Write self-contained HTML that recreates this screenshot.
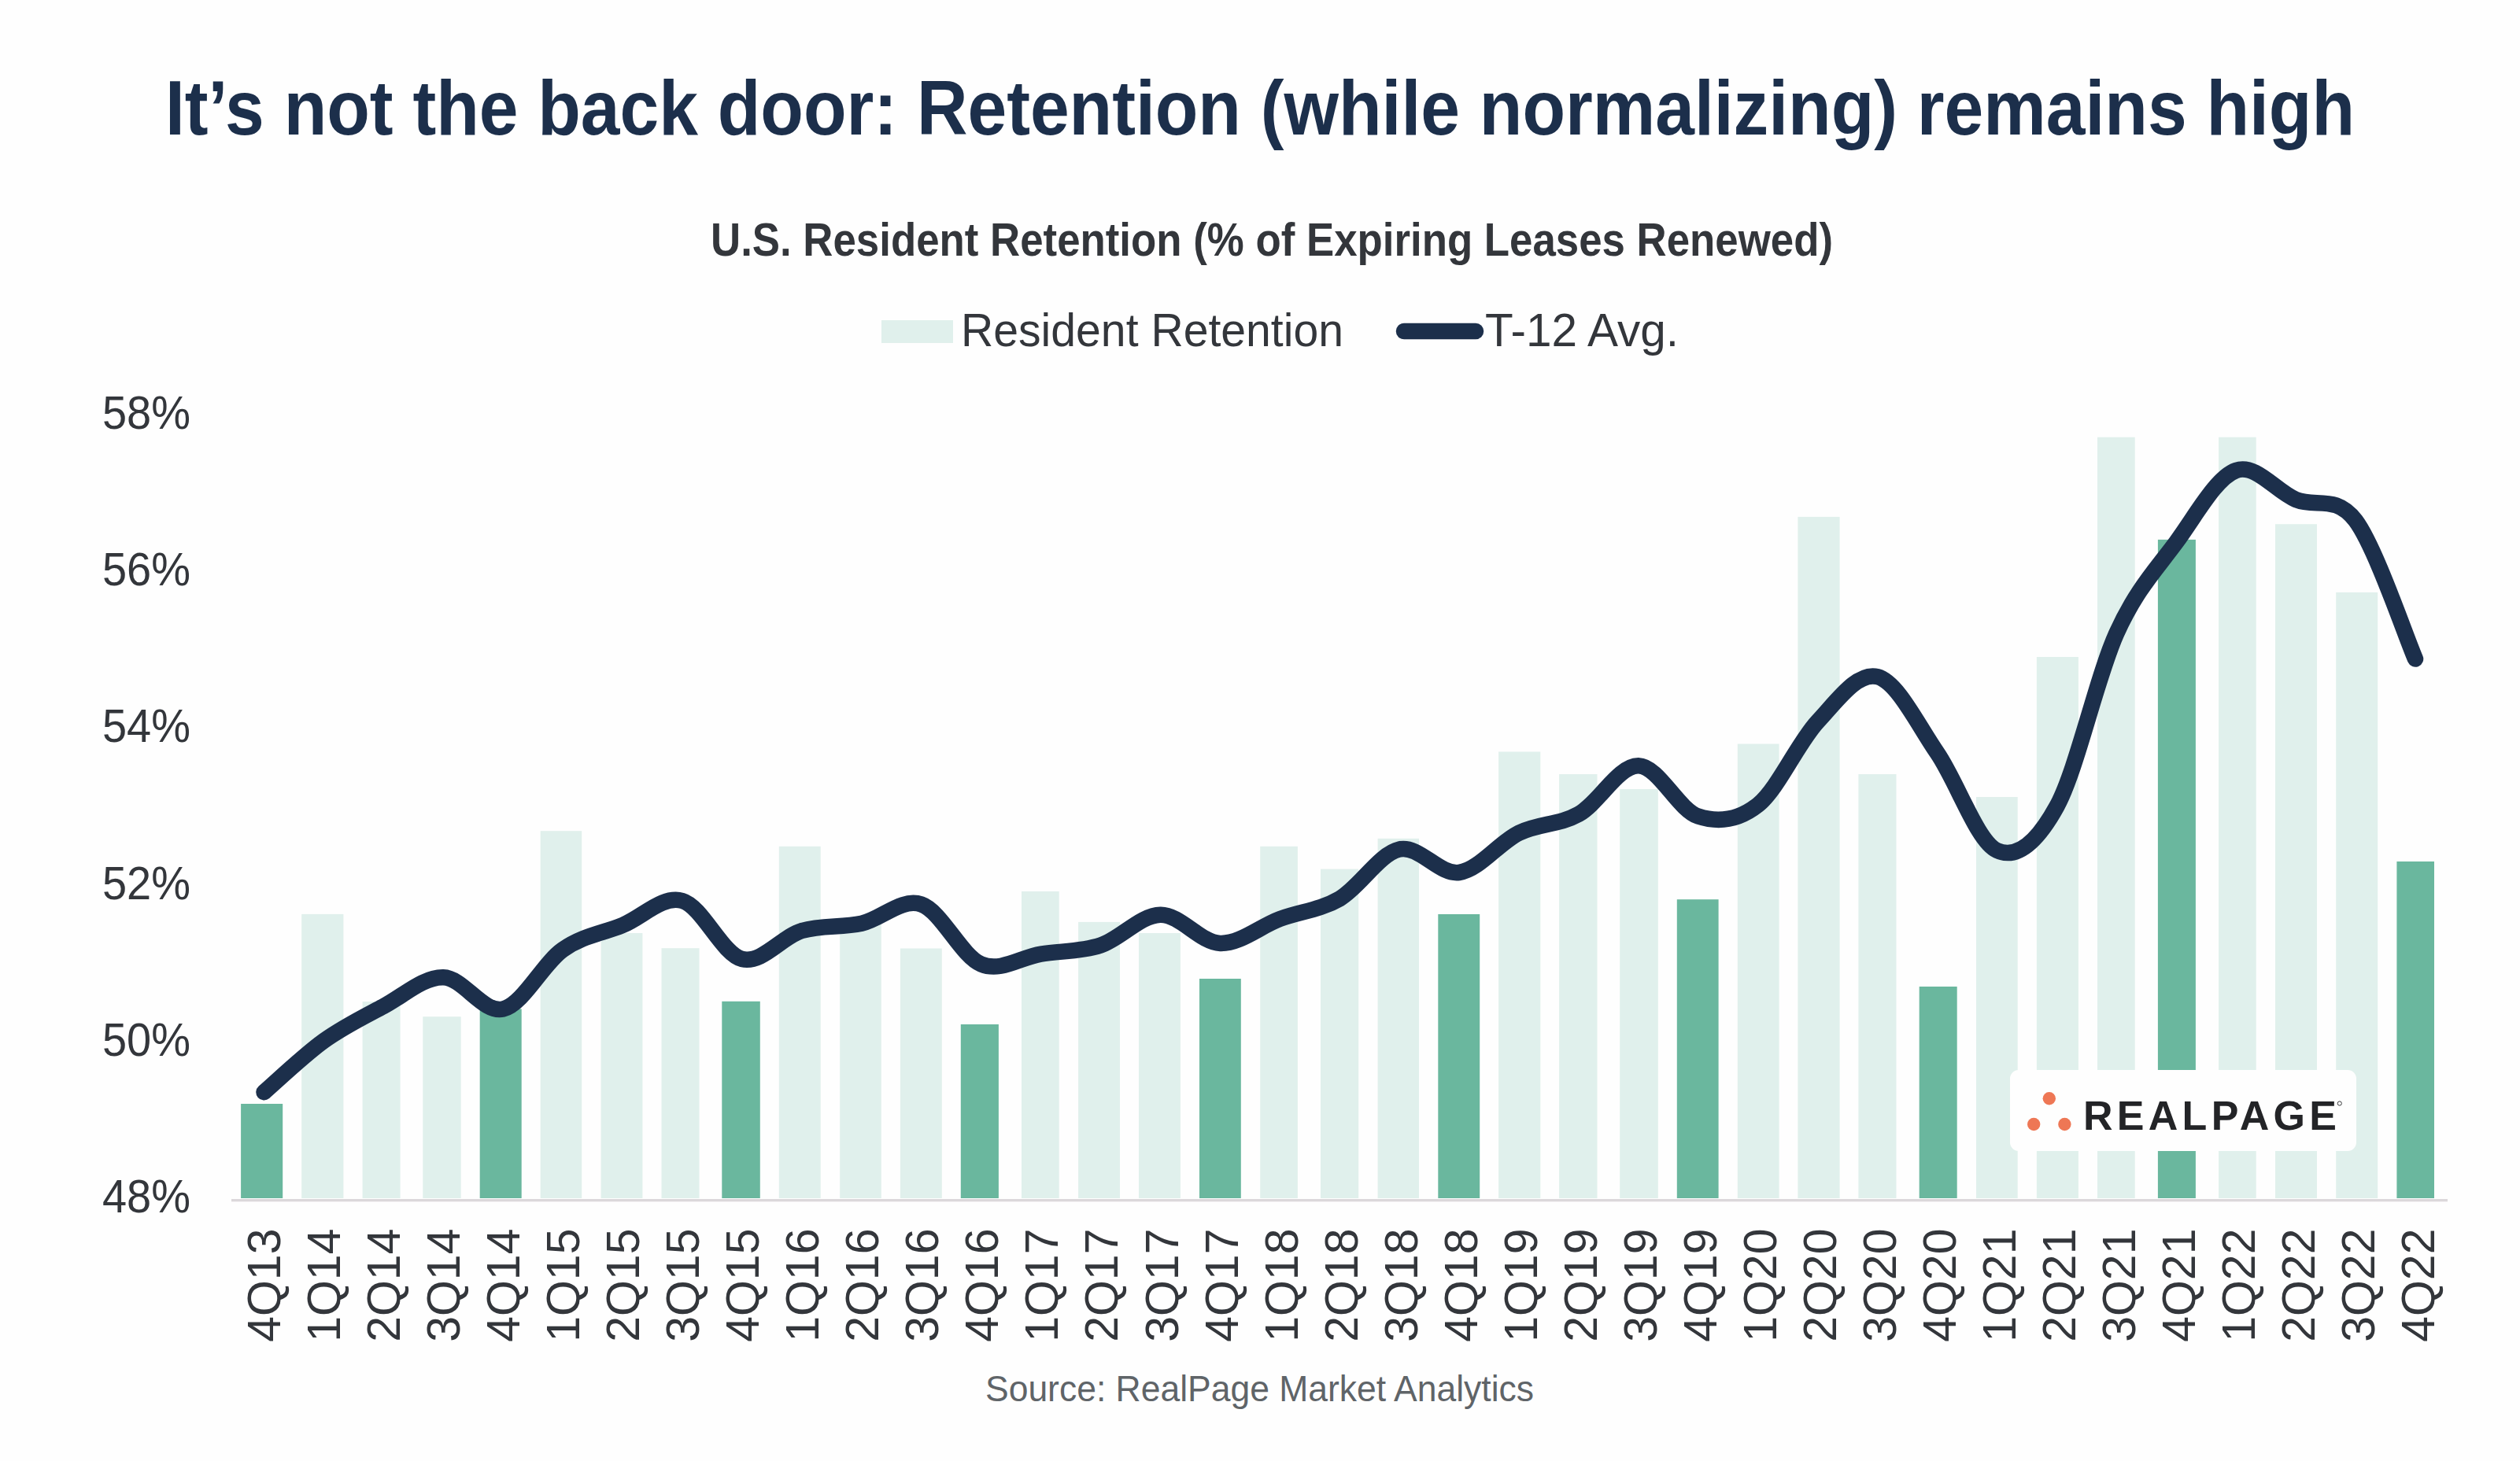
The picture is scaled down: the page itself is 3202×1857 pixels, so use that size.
<!DOCTYPE html><html><head><meta charset="utf-8"><title>U.S. Resident Retention</title><style>html,body{margin:0;padding:0;background:#fff;}svg{display:block;}text{font-family:"Liberation Sans", sans-serif;}</style></head><body>
<svg width="3202" height="1857" viewBox="0 0 3202 1857">
<rect x="0" y="0" width="3202" height="1857" fill="#fefefe"/>
<text x="210" y="171" font-size="98" font-weight="bold" fill="#1c2f4b" textLength="2782" lengthAdjust="spacingAndGlyphs">It’s not the back door: Retention (while normalizing) remains high</text>
<text x="903" y="325" font-size="60" font-weight="bold" fill="#33363b" textLength="1426" lengthAdjust="spacingAndGlyphs">U.S. Resident Retention (% of Expiring Leases Renewed)</text>
<rect x="1120" y="407" width="91" height="29" fill="#e0f0ec"/>
<text x="1221" y="440" font-size="60" fill="#33363b" textLength="486" lengthAdjust="spacingAndGlyphs">Resident Retention</text>
<line x1="1784" y1="421" x2="1875" y2="421" stroke="#1c2f4b" stroke-width="20.5" stroke-linecap="round"/>
<text x="1887" y="440" font-size="60" fill="#33363b" textLength="246" lengthAdjust="spacingAndGlyphs">T-12 Avg.</text>
<text x="242" y="545.0" font-size="60" fill="#33363b" text-anchor="end" textLength="112" lengthAdjust="spacingAndGlyphs">58%</text>
<text x="242" y="744.2" font-size="60" fill="#33363b" text-anchor="end" textLength="112" lengthAdjust="spacingAndGlyphs">56%</text>
<text x="242" y="943.4" font-size="60" fill="#33363b" text-anchor="end" textLength="112" lengthAdjust="spacingAndGlyphs">54%</text>
<text x="242" y="1142.6" font-size="60" fill="#33363b" text-anchor="end" textLength="112" lengthAdjust="spacingAndGlyphs">52%</text>
<text x="242" y="1341.8" font-size="60" fill="#33363b" text-anchor="end" textLength="112" lengthAdjust="spacingAndGlyphs">50%</text>
<text x="242" y="1541.0" font-size="60" fill="#33363b" text-anchor="end" textLength="112" lengthAdjust="spacingAndGlyphs">48%</text>
<rect x="306.1" y="1403.0" width="53.1" height="120.0" fill="#6ab79e"/>
<rect x="383.2" y="1161.9" width="53.2" height="361.1" fill="#e0f0ec"/>
<rect x="460.6" y="1273.1" width="48.0" height="249.9" fill="#e0f0ec"/>
<rect x="537.3" y="1292.2" width="48.4" height="230.8" fill="#e0f0ec"/>
<rect x="609.7" y="1282.4" width="53.0" height="240.6" fill="#6ab79e"/>
<rect x="686.7" y="1056.2" width="52.5" height="466.8" fill="#e0f0ec"/>
<rect x="763.6" y="1186.0" width="52.8" height="337.0" fill="#e0f0ec"/>
<rect x="840.5" y="1205.2" width="48.0" height="317.8" fill="#e0f0ec"/>
<rect x="917.3" y="1272.8" width="48.5" height="250.2" fill="#6ab79e"/>
<rect x="989.8" y="1075.8" width="52.9" height="447.2" fill="#e0f0ec"/>
<rect x="1067.2" y="1172.0" width="52.6" height="351.0" fill="#e0f0ec"/>
<rect x="1143.9" y="1205.5" width="52.9" height="317.5" fill="#e0f0ec"/>
<rect x="1220.8" y="1302.0" width="48.1" height="221.0" fill="#6ab79e"/>
<rect x="1298.0" y="1133.0" width="47.7" height="390.0" fill="#e0f0ec"/>
<rect x="1370.1" y="1171.9" width="52.9" height="351.1" fill="#e0f0ec"/>
<rect x="1447.0" y="1186.0" width="52.9" height="337.0" fill="#e0f0ec"/>
<rect x="1524.0" y="1244.0" width="52.8" height="279.0" fill="#6ab79e"/>
<rect x="1601.2" y="1075.8" width="47.7" height="447.2" fill="#e0f0ec"/>
<rect x="1678.0" y="1104.6" width="48.2" height="418.4" fill="#e0f0ec"/>
<rect x="1750.6" y="1065.8" width="52.4" height="457.2" fill="#e0f0ec"/>
<rect x="1827.3" y="1162.0" width="52.9" height="361.0" fill="#6ab79e"/>
<rect x="1904.1" y="955.5" width="53.2" height="567.5" fill="#e0f0ec"/>
<rect x="1981.1" y="984.0" width="48.4" height="539.0" fill="#e0f0ec"/>
<rect x="2058.2" y="1003.0" width="48.6" height="520.0" fill="#e0f0ec"/>
<rect x="2130.8" y="1143.2" width="52.8" height="379.8" fill="#6ab79e"/>
<rect x="2207.8" y="945.5" width="52.8" height="577.5" fill="#e0f0ec"/>
<rect x="2284.4" y="656.9" width="53.2" height="866.1" fill="#e0f0ec"/>
<rect x="2361.4" y="984.0" width="48.1" height="539.0" fill="#e0f0ec"/>
<rect x="2438.7" y="1254.0" width="48.0" height="269.0" fill="#6ab79e"/>
<rect x="2511.0" y="1013.0" width="52.7" height="510.0" fill="#e0f0ec"/>
<rect x="2587.9" y="835.0" width="53.0" height="688.0" fill="#e0f0ec"/>
<rect x="2665.0" y="555.7" width="47.7" height="967.3" fill="#e0f0ec"/>
<rect x="2741.9" y="685.9" width="48.0" height="837.1" fill="#6ab79e"/>
<rect x="2819.1" y="555.7" width="47.6" height="967.3" fill="#e0f0ec"/>
<rect x="2891.0" y="666.2" width="53.0" height="856.8" fill="#e0f0ec"/>
<rect x="2968.2" y="752.9" width="53.0" height="770.1" fill="#e0f0ec"/>
<rect x="3045.4" y="1095.0" width="47.6" height="428.0" fill="#6ab79e"/>
<rect x="294" y="1524" width="2816" height="3.3" fill="#dcd8db"/>
<rect x="2554" y="1360" width="440" height="103" rx="11" fill="#fefefe"/>
<circle cx="2603.8" cy="1396.2" r="8.2" fill="#ee7755"/>
<circle cx="2584.2" cy="1429.0" r="8.2" fill="#ee7755"/>
<circle cx="2623.4" cy="1429.0" r="8.2" fill="#ee7755"/>
<text x="2647" y="1436.2" font-size="52" font-weight="bold" fill="#232427" textLength="322" lengthAdjust="spacing">REALPAGE</text>
<circle cx="2972.8" cy="1402.5" r="2.6" fill="none" stroke="#232427" stroke-width="0.9"/>
<path d="M335.5 1388.2 C348.2 1377.3 386.1 1341.2 411.4 1323.0 C436.7 1304.8 462.1 1292.5 487.4 1279.0 C512.7 1265.5 538.0 1241.6 563.3 1242.2 C588.6 1242.8 613.9 1288.4 639.2 1282.5 C664.5 1276.6 689.8 1224.8 715.2 1207.0 C740.5 1189.2 765.8 1186.3 791.1 1176.0 C816.4 1165.7 841.7 1137.8 867.0 1145.0 C892.3 1152.2 917.6 1212.7 942.9 1219.0 C968.3 1225.3 993.6 1190.5 1018.9 1183.0 C1044.2 1175.5 1069.5 1179.3 1094.8 1173.7 C1120.1 1168.1 1145.4 1140.9 1170.7 1149.5 C1196.0 1158.1 1221.4 1215.0 1246.7 1225.5 C1272.0 1236.0 1297.3 1216.6 1322.6 1212.6 C1347.9 1208.6 1373.2 1209.8 1398.5 1201.5 C1423.8 1193.2 1449.1 1163.1 1474.5 1162.7 C1499.8 1162.3 1525.1 1198.0 1550.4 1198.9 C1575.7 1199.8 1601.0 1177.4 1626.3 1168.0 C1651.6 1158.6 1676.9 1157.0 1702.2 1142.3 C1727.6 1127.5 1752.9 1085.0 1778.2 1079.5 C1803.5 1074.0 1828.8 1112.5 1854.1 1109.0 C1879.4 1105.5 1904.7 1071.1 1930.0 1058.7 C1955.3 1046.3 1980.7 1049.0 2006.0 1034.8 C2031.3 1020.6 2056.6 972.8 2081.9 973.3 C2107.2 973.8 2132.5 1029.3 2157.8 1037.6 C2183.1 1045.9 2208.4 1043.1 2233.8 1023.0 C2259.1 1002.9 2284.4 944.1 2309.7 917.0 C2335.0 889.9 2360.3 853.5 2385.6 860.2 C2410.9 866.9 2436.2 920.2 2461.5 957.0 C2486.8 993.8 2512.2 1069.7 2537.5 1081.0 C2562.8 1092.3 2588.1 1071.0 2613.4 1025.0 C2638.7 979.0 2664.0 861.0 2689.3 805.0 C2714.6 749.0 2740.0 723.5 2765.3 689.0 C2790.6 654.5 2815.9 607.0 2841.2 598.0 C2866.5 589.0 2891.8 624.4 2917.1 635.0 C2942.4 645.6 2967.7 628.0 2993.1 661.7 C3018.4 695.5 3056.3 808.2 3069.0 837.5" fill="none" stroke="#1c2f4b" stroke-width="20.5" stroke-linecap="round" stroke-linejoin="round"/>
<text transform="translate(356.0 1561.5) rotate(-90)" font-size="59" fill="#33363b" text-anchor="end">4Q13</text>
<text transform="translate(432.0 1561.5) rotate(-90)" font-size="59" fill="#33363b" text-anchor="end">1Q14</text>
<text transform="translate(508.1 1561.5) rotate(-90)" font-size="59" fill="#33363b" text-anchor="end">2Q14</text>
<text transform="translate(584.1 1561.5) rotate(-90)" font-size="59" fill="#33363b" text-anchor="end">3Q14</text>
<text transform="translate(660.1 1561.5) rotate(-90)" font-size="59" fill="#33363b" text-anchor="end">4Q14</text>
<text transform="translate(736.1 1561.5) rotate(-90)" font-size="59" fill="#33363b" text-anchor="end">1Q15</text>
<text transform="translate(812.2 1561.5) rotate(-90)" font-size="59" fill="#33363b" text-anchor="end">2Q15</text>
<text transform="translate(888.2 1561.5) rotate(-90)" font-size="59" fill="#33363b" text-anchor="end">3Q15</text>
<text transform="translate(964.2 1561.5) rotate(-90)" font-size="59" fill="#33363b" text-anchor="end">4Q15</text>
<text transform="translate(1040.3 1561.5) rotate(-90)" font-size="59" fill="#33363b" text-anchor="end">1Q16</text>
<text transform="translate(1116.3 1561.5) rotate(-90)" font-size="59" fill="#33363b" text-anchor="end">2Q16</text>
<text transform="translate(1192.3 1561.5) rotate(-90)" font-size="59" fill="#33363b" text-anchor="end">3Q16</text>
<text transform="translate(1268.4 1561.5) rotate(-90)" font-size="59" fill="#33363b" text-anchor="end">4Q16</text>
<text transform="translate(1344.4 1561.5) rotate(-90)" font-size="59" fill="#33363b" text-anchor="end">1Q17</text>
<text transform="translate(1420.4 1561.5) rotate(-90)" font-size="59" fill="#33363b" text-anchor="end">2Q17</text>
<text transform="translate(1496.5 1561.5) rotate(-90)" font-size="59" fill="#33363b" text-anchor="end">3Q17</text>
<text transform="translate(1572.5 1561.5) rotate(-90)" font-size="59" fill="#33363b" text-anchor="end">4Q17</text>
<text transform="translate(1648.5 1561.5) rotate(-90)" font-size="59" fill="#33363b" text-anchor="end">1Q18</text>
<text transform="translate(1724.5 1561.5) rotate(-90)" font-size="59" fill="#33363b" text-anchor="end">2Q18</text>
<text transform="translate(1800.6 1561.5) rotate(-90)" font-size="59" fill="#33363b" text-anchor="end">3Q18</text>
<text transform="translate(1876.6 1561.5) rotate(-90)" font-size="59" fill="#33363b" text-anchor="end">4Q18</text>
<text transform="translate(1952.6 1561.5) rotate(-90)" font-size="59" fill="#33363b" text-anchor="end">1Q19</text>
<text transform="translate(2028.7 1561.5) rotate(-90)" font-size="59" fill="#33363b" text-anchor="end">2Q19</text>
<text transform="translate(2104.7 1561.5) rotate(-90)" font-size="59" fill="#33363b" text-anchor="end">3Q19</text>
<text transform="translate(2180.7 1561.5) rotate(-90)" font-size="59" fill="#33363b" text-anchor="end">4Q19</text>
<text transform="translate(2256.8 1561.5) rotate(-90)" font-size="59" fill="#33363b" text-anchor="end">1Q20</text>
<text transform="translate(2332.8 1561.5) rotate(-90)" font-size="59" fill="#33363b" text-anchor="end">2Q20</text>
<text transform="translate(2408.8 1561.5) rotate(-90)" font-size="59" fill="#33363b" text-anchor="end">3Q20</text>
<text transform="translate(2484.8 1561.5) rotate(-90)" font-size="59" fill="#33363b" text-anchor="end">4Q20</text>
<text transform="translate(2560.9 1561.5) rotate(-90)" font-size="59" fill="#33363b" text-anchor="end">1Q21</text>
<text transform="translate(2636.9 1561.5) rotate(-90)" font-size="59" fill="#33363b" text-anchor="end">2Q21</text>
<text transform="translate(2712.9 1561.5) rotate(-90)" font-size="59" fill="#33363b" text-anchor="end">3Q21</text>
<text transform="translate(2789.0 1561.5) rotate(-90)" font-size="59" fill="#33363b" text-anchor="end">4Q21</text>
<text transform="translate(2865.0 1561.5) rotate(-90)" font-size="59" fill="#33363b" text-anchor="end">1Q22</text>
<text transform="translate(2941.0 1561.5) rotate(-90)" font-size="59" fill="#33363b" text-anchor="end">2Q22</text>
<text transform="translate(3017.1 1561.5) rotate(-90)" font-size="59" fill="#33363b" text-anchor="end">3Q22</text>
<text transform="translate(3093.1 1561.5) rotate(-90)" font-size="59" fill="#33363b" text-anchor="end">4Q22</text>
<text x="1252" y="1781" font-size="47" fill="#5f6468" textLength="697" lengthAdjust="spacingAndGlyphs">Source: RealPage Market Analytics</text>
</svg></body></html>
